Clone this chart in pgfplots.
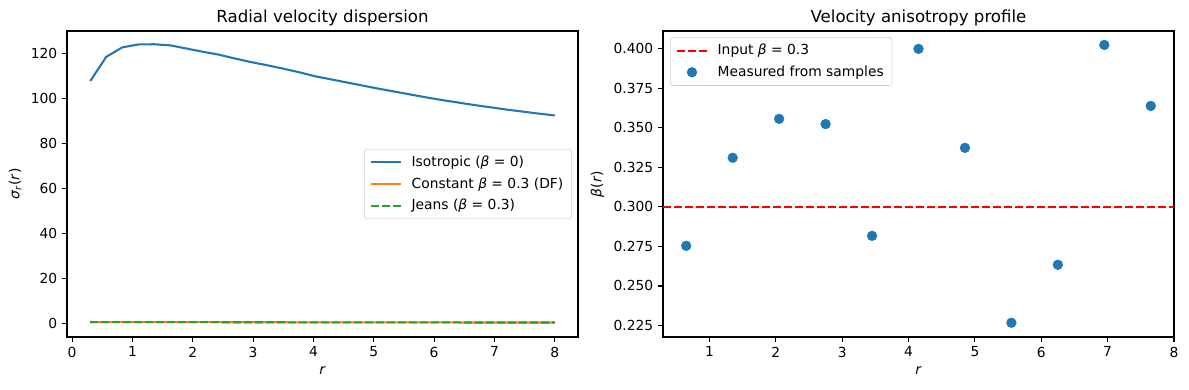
\documentclass[border=0pt]{standalone}
\usepackage{fontspec}
\setmainfont{DejaVu Sans}
\usepackage{pgfplots}
\pgfplotsset{compat=1.18}
\definecolor{tabblue}{HTML}{1F77B4}
\definecolor{taborange}{HTML}{FF7F0E}
\definecolor{tabgreen}{HTML}{2CA02C}
\definecolor{mplred}{HTML}{FF0000}
\begin{document}
\begin{tikzpicture}
\path[use as bounding box] (-0.67in,-0.53in) rectangle (11.22in,3.37in);
\pgfplotsset{
  every axis/.append style={
    scale only axis, width=5.11in, height=3.06in,
    axis line style={line width=0.8pt},
    tick align=outside, tick pos=left,
    major tick length=3.5pt,
    every tick/.style={black, line width=0.8pt},
    tick label style={font=\fontsize{10}{12}\selectfont},
    label style={font=\fontsize{10}{12}\selectfont},
    title style={font=\fontsize{12}{14}\selectfont, yshift=-6pt},
    /pgf/number format/assume math mode=true,
    legend style={font=\fontsize{10}{12}\selectfont, draw=black!20, rounded corners=2pt,
      fill=white, inner xsep=4pt, inner ysep=3pt,
      row sep=2.5pt, /tikz/every odd column/.append style={column sep=5pt}},
    legend cell align=left,
    legend image code/.code={\draw[mark repeat=2,mark phase=2] plot coordinates {(0cm,0cm) (0.38cm,0cm) (0.76cm,0cm)};},
  }
}
\begin{axis}[
  at={(0,0)},
  title={Radial velocity dispersion},
  xlabel={\textit{r}},
  ylabel={\textit{σ}\textsubscript{\textit{r}}(\textit{r})},
  xmin=-0.085, xmax=8.385, ymin=-6.2, ymax=130.1,
  xtick={0,1,...,8}, ytick={0,20,...,120},
  legend style={at={(0.988,0.5)}, anchor=east},
]
\addplot[tabblue, line width=1.5pt] coordinates {
(0.300,107.8) (0.566,118.6) (0.831,122.8) (1.097,124.1) (1.362,124.2)
(1.628,123.7) (1.893,122.3) (2.159,120.9) (2.424,119.6) (2.690,117.9)
(2.955,116.3) (3.221,114.9) (3.486,113.4) (3.752,111.8) (4.017,110.0)
(4.283,108.6) (4.548,107.2) (4.814,105.8) (5.079,104.4) (5.345,103.1)
(5.610,101.8) (5.876,100.5) (6.141,99.3) (6.407,98.2) (6.672,97.1)
(6.938,96.1) (7.203,95.1) (7.469,94.2) (7.734,93.3) (8.000,92.5)
};
\addlegendentry{Isotropic (\textit{β} = 0)}
\addplot[taborange, line width=1.5pt] coordinates {
(0.300,0.45) (1.362,0.42) (2.690,0.38) (4.017,0.34) (5.345,0.30) (6.672,0.27) (8.000,0.25)
};
\addlegendentry{Constant \textit{β} = 0.3 (DF)}
\addplot[tabgreen, line width=1.5pt, dash pattern=on 5.55pt off 2.4pt] coordinates {
(0.300,0.45) (1.362,0.42) (2.690,0.38) (4.017,0.34) (5.345,0.30) (6.672,0.27) (8.000,0.25)
};
\addlegendentry{Jeans (\textit{β} = 0.3)}
\end{axis}
\begin{axis}[
  at={(5.96in,0)},
  title={Velocity anisotropy profile},
  xlabel={\textit{r}},
  ylabel={\textit{β}(\textit{r})},
  xmin=0.3, xmax=8.0, ymin=0.2177, ymax=0.4113,
  xtick={1,2,...,8}, ytick={0.225,0.25,0.275,0.3,0.325,0.35,0.375,0.4},
  yticklabel style={/pgf/number format/.cd, fixed, fixed zerofill, precision=3},
  legend style={at={(0.014,0.98)}, anchor=north west},
]
\addplot[mplred, line width=1.5pt, dash pattern=on 5.55pt off 2.4pt] coordinates {(0.3,0.3) (8.0,0.3)};
\addlegendentry{Input \textit{β} = 0.3}
\addplot[only marks, mark=*, mark size=3.5pt, tabblue, mark options={draw=tabblue, fill=tabblue}] coordinates {
(0.65,0.2754) (1.35,0.3311) (2.05,0.3557) (2.75,0.3524) (3.45,0.2817) (4.15,0.4000)
(4.85,0.3374) (5.55,0.2267) (6.25,0.2634) (6.95,0.4025) (7.65,0.3639)
};
\addlegendentry{Measured from samples}
\end{axis}
\end{tikzpicture}
\end{document}
